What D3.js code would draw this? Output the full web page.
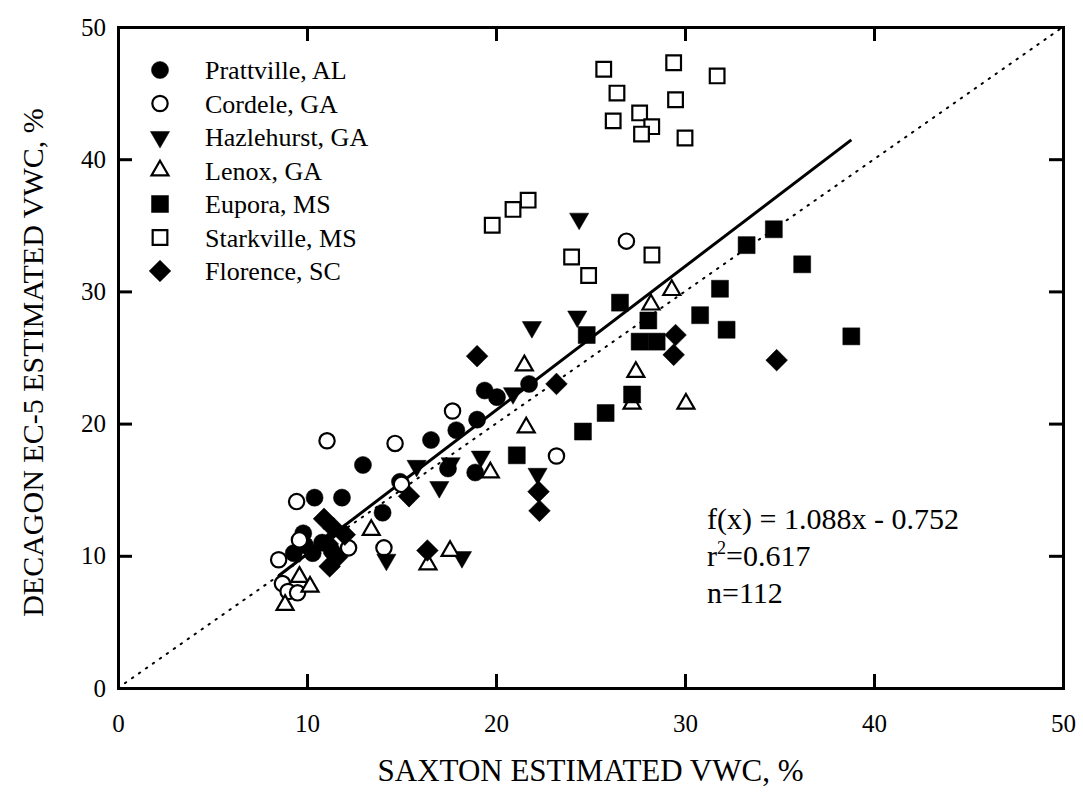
<!DOCTYPE html>
<html>
<head>
<meta charset="utf-8">
<script src="https://cdn.jsdelivr.net/npm/d3@7"></script>
<style>
  body { margin: 0; background: #fff; }
  text { font-family: "Liberation Serif", "Times New Roman", serif; fill: #000; }
</style>
</head>
<body>
<svg id="chart" width="1083" height="798"></svg>
<script>
// Saxton-estimated vs Decagon EC-5 volumetric water content (%), by site
const siteNames = ["Prattville, AL", "Cordele, GA", "Hazlehurst, GA", "Lenox, GA", "Eupora, MS", "Starkville, MS", "Florence, SC"];

const prattville = [[10.4,14.4],[11.85,14.4],[12.96,16.87],[14.0,13.26],[14.92,15.6],[16.56,18.76],[17.46,16.6],[17.9,19.5],[18.9,16.3],[19.0,20.3],[19.4,22.5],[20.05,22.0],[21.75,23.0],[9.8,11.7],[9.3,10.2],[10.3,10.2],[10.8,11.0],[11.3,10.4],[9.9,10.8]];
const cordele = [[11.06,18.7],[14.66,18.5],[17.7,20.95],[26.9,33.8],[23.2,17.55],[14.07,10.6],[12.2,10.6],[15.0,15.4],[9.45,14.1],[8.5,9.7],[8.7,7.9],[9.0,7.3],[9.5,7.2],[9.6,11.2]];
const hazlehurst = [[24.4,35.5],[24.3,28.1],[21.9,27.3],[20.9,22.3],[15.8,16.8],[17.6,17.0],[19.2,17.5],[17.0,15.2],[22.2,16.2],[14.2,9.7],[18.2,9.9]];
const lenox = [[29.3,30.1],[28.2,29.0],[21.5,24.4],[21.6,19.7],[19.7,16.3],[27.4,23.9],[27.2,21.5],[30.05,21.5],[13.4,11.95],[17.57,10.36],[16.4,9.35],[9.6,8.4],[10.16,7.66],[8.84,6.28]];
const eupora = [[34.7,34.7],[33.26,33.5],[36.2,32.05],[31.85,30.2],[30.8,28.2],[32.2,27.1],[38.8,26.6],[26.56,29.15],[28.06,27.8],[27.6,26.2],[28.5,26.2],[24.8,26.7],[27.2,22.2],[25.8,20.8],[24.6,19.4],[21.1,17.6]];
const starkville = [[25.7,46.8],[29.4,47.3],[31.7,46.3],[26.4,45.0],[29.5,44.5],[27.6,43.5],[26.2,42.9],[28.24,42.46],[27.7,41.9],[30.0,41.6],[21.7,36.9],[20.9,36.2],[19.8,35.0],[24.0,32.6],[24.9,31.2],[28.25,32.75]];
const florence = [[19.0,25.1],[23.2,23.0],[34.85,24.8],[29.5,26.7],[29.4,25.2],[22.25,14.85],[22.3,13.4],[15.4,14.5],[16.37,10.4],[10.9,12.8],[11.2,9.2],[11.6,9.9],[11.4,12.1],[11.1,10.9],[12.0,11.6]];

const axisTicks = [0, 10, 20, 30, 40, 50];
const fitSlope = 1.088, fitIntercept = -0.752, fitRange = [8.5, 38.8];
const statLines = ["f(x) = 1.088x - 0.752", "0.617", "n=112"];

const width = 1083, height = 798;
const margin = { left: 118, right: 20, top: 27, bottom: 110 };

const svg = d3.select("#chart");
const x = d3.scaleLinear().domain([0, 50]).range([margin.left, width - margin.right]);
const y = d3.scaleLinear().domain([0, 50]).range([height - margin.bottom, margin.top]);

// marker styles per site: symbol, filled or hollow, area, rotation
const markers = [
  { type: d3.symbolCircle, fill: true, size: 230, rot: 0 },
  { type: d3.symbolCircle, fill: false, size: 185, rot: 0 },
  { type: d3.symbolTriangle, fill: true, size: 160, rot: 180 },
  { type: d3.symbolTriangle, fill: false, size: 125, rot: 0 },
  { type: d3.symbolSquare, fill: true, size: 289, rot: 0 },
  { type: d3.symbolSquare, fill: false, size: 215, rot: 0 },
  { type: d3.symbolSquare, fill: true, size: 235, rot: 45 }
];
const series = [prattville, cordele, hazlehurst, lenox, eupora, starkville, florence];

// 1:1 reference line
svg.append("line")
  .attr("x1", x(0)).attr("y1", y(0)).attr("x2", x(50)).attr("y2", y(50))
  .attr("stroke", "#000").attr("stroke-width", 2)
  .attr("stroke-dasharray", "1.5,7").attr("stroke-linecap", "round");

// regression line
svg.append("line")
  .attr("x1", x(fitRange[0])).attr("y1", y(fitSlope * fitRange[0] + fitIntercept))
  .attr("x2", x(fitRange[1])).attr("y2", y(fitSlope * fitRange[1] + fitIntercept))
  .attr("stroke", "#000").attr("stroke-width", 3);

function drawMarker(g, m, px, py) {
  g.append("path")
    .attr("d", d3.symbol().type(m.type).size(m.size)())
    .attr("transform", `translate(${px},${py}) rotate(${m.rot})`)
    .attr("fill", m.fill ? "#000" : "#fff")
    .attr("stroke", "#000")
    .attr("stroke-width", m.fill ? 0.5 : 2.2);
}

const pts = svg.append("g");
series.forEach((data, i) => {
  data.forEach(d => drawMarker(pts, markers[i], x(d[0]), y(d[1])));
});

// axes: ticks point inward on all four sides
const tickLen = 14;
const frame = svg.append("g");
frame.append("g").attr("transform", `translate(0,${y(0)})`)
  .call(d3.axisBottom(x).tickValues(axisTicks).tickSize(-tickLen).tickPadding(26).tickFormat(d3.format("d")));
frame.append("g").attr("transform", `translate(0,${y(50)})`)
  .call(d3.axisTop(x).tickValues(axisTicks).tickSize(-tickLen).tickFormat(""));
frame.append("g").attr("transform", `translate(${x(0)},0)`)
  .call(d3.axisLeft(y).tickValues(axisTicks).tickSize(-tickLen).tickPadding(12).tickFormat(d3.format("d")));
frame.append("g").attr("transform", `translate(${x(50)},0)`)
  .call(d3.axisRight(y).tickValues(axisTicks).tickSize(-tickLen).tickFormat(""));
frame.selectAll(".domain").attr("stroke", "#000").attr("stroke-width", 3);
frame.selectAll(".tick line").attr("stroke", "#000").attr("stroke-width", 3);
frame.selectAll(".tick text").attr("font-size", 25).attr("font-family", "Liberation Serif, serif").attr("fill", "#000");

// axis titles
svg.append("text").attr("x", (x(0) + x(50)) / 2).attr("y", 781)
  .attr("text-anchor", "middle").attr("font-size", 31)
  .text("SAXTON ESTIMATED VWC, %");
svg.append("text").attr("transform", `translate(43,${(y(0) + y(50)) / 2 + 5}) rotate(-90)`)
  .attr("text-anchor", "middle").attr("font-size", 30)
  .text("DECAGON EC-5 ESTIMATED VWC, %");

// legend
const legend = svg.append("g");
siteNames.forEach((name, i) => {
  const ly = 70 + i * 33.5;
  drawMarker(legend, markers[i], 160, ly);
  legend.append("text").attr("x", 205).attr("y", ly + 9).attr("font-size", 26).text(name);
});

// regression statistics
const stats = svg.append("g").attr("font-size", 30);
stats.append("text").attr("x", 707).attr("y", 529).text(statLines[0]);
const r2 = stats.append("text").attr("x", 707).attr("y", 566);
r2.append("tspan").text("r");
r2.append("tspan").attr("dy", -12).attr("font-size", 18).text("2");
r2.append("tspan").attr("dy", 12).text("=" + statLines[1]);
stats.append("text").attr("x", 707).attr("y", 603).text(statLines[2]);
</script>
</body>
</html>
